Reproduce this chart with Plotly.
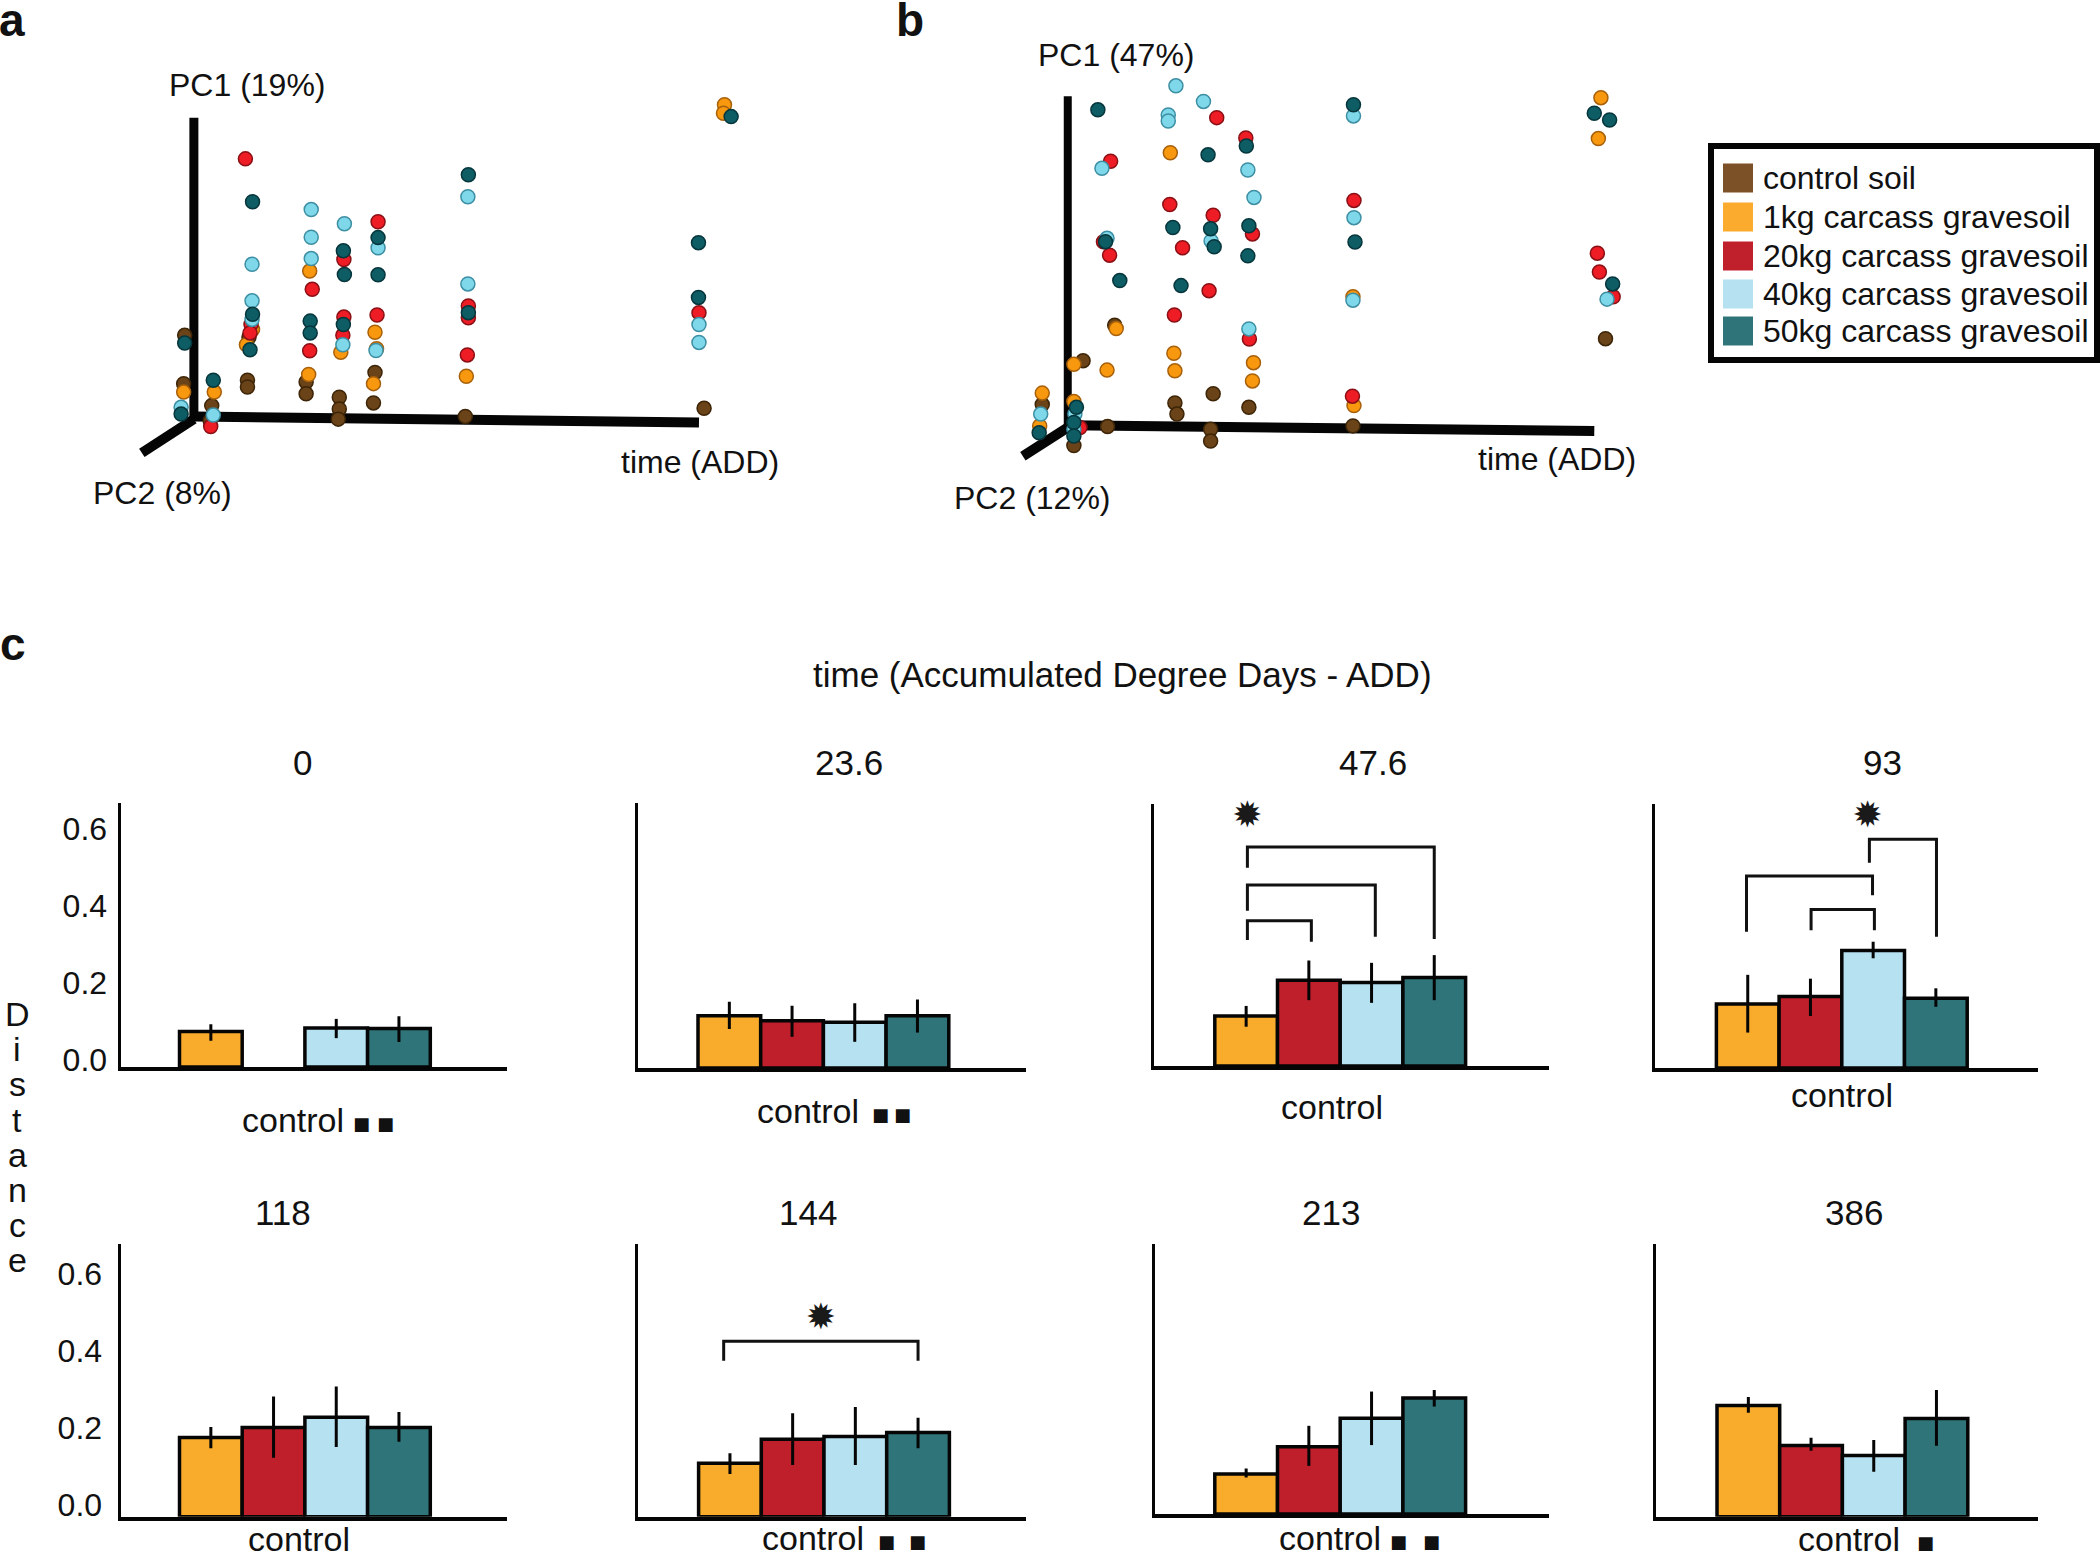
import plotly.graph_objects as go

W, H = 2100, 1553
FONT = "Liberation Sans"
INK = "#111111"

# ---------- data: panel a (projection read-offs; x = time direction, y = PC1 direction)
a_control = [(105,115),(105,95),(220,110),(220,75),(285,65),(285,30),(355,138),(352,48),(532,8),(1000,32),(-18,248),(-20,105),(35,40),(108,242),(32,-5),(283,0)]
a_1kg = [(227,438),(288,198),(355,257),(358,208),(352,105),(534,127),(225,132),(-20,80),(40,80),(103,220),(1040,930),(1038,905),(115,265)]
a_20kg = [(101,770),(232,384),(227,202),(294,472),(294,302),(292,248),(361,584),(359,308),(536,190),(538,335),(538,300),(990,315),(112,280),(110,255),(33,-22)]
a_40kg = [(230,620),(230,538),(230,475),(295,578),(361,507),(114,458),(114,350),(114,295),(292,220),(357,203),(537,658),(537,400),(990,280),(990,227),(38,12),(-25,35)]
a_50kg = [(115,643),(110,205),(115,310),(228,290),(228,255),(293,498),(295,428),(293,280),(361,537),(361,427),(538,723),(538,315),(989,522),(989,360),(-18,225),(38,115),(-25,15),(1053,895)]

# ---------- data: panel b
b_control = [(92,303),(30,198),(285,100),(210,73),(214,40),(355,60),(78,3),(280,-5),(280,-40),(559,5),(1054,263),(-50,68),(12,-53)]
b_1kg = [(201,813),(1045,976),(1040,855),(12,187),(77,170),(208,220),(210,168),(364,192),(362,138),(95,293),(561,65),(-50,102),(12,77),(-55,5),(559,387)]
b_20kg = [(84,788),(292,917),(349,857),(200,660),(285,628),(70,550),(82,510),(225,532),(362,573),(277,405),(209,333),(356,262),(561,672),(558,93),(1038,516),(1042,460),(1069,387),(24,0)]
b_40kg = [(212,1011),(266,965),(197,925),(197,907),(67,767),(353,762),(365,681),(560,922),(561,621),(559,377),(281,552),(355,292),(1057,380),(77,560),(-53,40),(14,40),(12,-5)]
b_50kg = [(59,940),(275,807),(350,833),(560,955),(1032,930),(1062,910),(74,550),(102,435),(206,592),(222,420),(280,588),(287,535),(355,597),(353,508),(563,549),(1068,425),(17,60),(12,15),(12,-25),(-56,-15)]

# ---------- data: panel c
series_names = ["control soil", "1kg carcass gravesoil", "20kg carcass gravesoil", "40kg carcass gravesoil", "50kg carcass gravesoil"]
add_titles = ["0", "23.6", "47.6", "93", "118", "144", "213", "386"]
bar_values = [
    [0.092, None, 0.101, 0.100],
    [0.136, 0.123, 0.119, 0.136],
    [0.130, 0.223, 0.217, 0.230],
    [0.166, 0.186, 0.305, 0.181],
    [0.206, 0.232, 0.258, 0.232],
    [0.139, 0.201, 0.208, 0.219],
    [0.104, 0.175, 0.249, 0.301],
    [0.289, 0.185, 0.159, 0.255],
]
err_high = [
    [0.111, None, 0.125, 0.132],
    [0.172, 0.162, 0.168, 0.178],
    [0.156, 0.274, 0.268, 0.288],
    [0.242, 0.232, 0.328, 0.207],
    [0.233, 0.312, 0.338, 0.272],
    [0.165, 0.269, 0.285, 0.257],
    [0.118, 0.229, 0.318, 0.322],
    [0.311, 0.205, 0.199, 0.329],
]
err_low = [
    [0.068, None, 0.075, 0.065],
    [0.101, 0.081, 0.068, 0.092],
    [0.102, 0.171, 0.164, 0.171],
    [0.092, 0.135, 0.285, 0.159],
    [0.178, 0.153, 0.181, 0.195],
    [0.111, 0.134, 0.134, 0.178],
    [0.095, 0.125, 0.179, 0.279],
    [0.270, 0.171, 0.117, 0.184],
]
# brackets per panel: (x0, x1, top, left end, right end)
brackets = {
    2: [(0.02, 3.0, 0.569, 0.515, 0.330), (0.02, 2.06, 0.470, 0.403, 0.336), (0.02, 1.04, 0.377, 0.327, 0.323)],
    3: [(-0.02, 1.99, 0.499, 0.354, 0.449), (1.01, 2.02, 0.412, 0.358, 0.358), (1.94, 3.01, 0.594, 0.533, 0.341)],
    5: [(-0.1, 3.0, 0.456, 0.405, 0.405)],
}
stars = {2: (0.02, 0.644), 3: (1.91, 0.649), 5: (1.45, 0.511)}
y_ticks = [0.0, 0.2, 0.4, 0.6]

# ---------- styling / layout
marker_cols = ["#6a4318", "#f7980f", "#ee1c25", "#7fd8ea", "#0e5c64"]
marker_edge = ["#3d2508", "#a8600a", "#8a1015", "#3d8fa3", "#06363c"]
bar_cols = ["#f9ac2c", "#be1f2b", "#b5e1f0", "#2f7479"]
swatch_cols = ["#7c5128", "#fbab2e", "#c0202c", "#b5e1f0", "#2f7479"]

# axisX, axisEnd, base, top, first bar left edge
panels = [
    (119, 507, 1067, 803, 179.5), (636, 1026, 1068, 803, 698), (1152.5, 1549, 1066, 804, 1214.8), (1653.5, 2038, 1068, 804, 1716.4),
    (119, 507, 1516.7, 1244, 179.5), (636, 1026, 1516.7, 1244, 698.6), (1153.8, 1549, 1514, 1244, 1214.8), (1654.8, 2038, 1516.7, 1244, 1717),
]
BAR_W = 62.7
Y_SCALE = 385.0
title_pos = [(302, 762), (849, 762), (1373, 762), (1882.6, 762), (283, 1212), (808, 1212), (1331, 1212), (1854, 1212)]
# control text centre, y, square centres
ctrl = [
    (293, 1120, [361, 385]), (808, 1111, [880, 902]), (1332, 1107, []), (1842, 1095, []),
    (299, 1539, []), (813, 1538, [886, 917]), (1330, 1538, [1398, 1431]), (1849, 1539, [1925]),
]

fig = go.Figure()
layout = dict(width=W, height=H, margin=dict(l=0, r=0, t=0, b=0, pad=0), autosize=False,
              template="none",
              paper_bgcolor="white", plot_bgcolor="white", showlegend=False,
              font=dict(family=FONT, color=INK))
ann = []
shapes = []

def px(x): return x / W
def py(y): return 1 - y / H

def text(x, y, s, size=32, bold=False, anchor="center", family=FONT):
    ann.append(dict(x=px(x), y=py(y), xref="paper", yref="paper", text=f"<b>{s}</b>" if bold else s,
                    showarrow=False, xanchor=anchor, yanchor="middle",
                    font=dict(size=size, family=family, color=INK)))

# ---------- panels a and b
def scatter_panel(idx, left, right, xr, yr, groups, axes):
    xk, yk = f"xaxis{idx}", f"yaxis{idx}"
    layout[xk] = dict(domain=[px(left), px(right)], range=xr, visible=False, anchor=f"y{idx}", automargin=False)
    layout[yk] = dict(domain=[py(530), 1], range=yr, visible=False, anchor=f"x{idx}", automargin=False)
    for seg in axes:
        fig.add_trace(go.Scatter(x=seg[0], y=seg[1], mode="lines", xaxis=f"x{idx}", yaxis=f"y{idx}",
                                 line=dict(color="#050505", width=seg[2]), hoverinfo="skip"))
    for g, col, edge, name in zip(groups, marker_cols, marker_edge, series_names):
        fig.add_trace(go.Scatter(x=[p[0] for p in g], y=[p[1] for p in g], mode="markers", name=name,
                                 xaxis=f"x{idx}", yaxis=f"y{idx}",
                                 marker=dict(size=14, color=col, line=dict(color=edge, width=1.5))))

scatter_panel(9, 0, 800, [-380, 1188], [-328, 1240],
              [a_control, a_1kg, a_20kg, a_40kg, a_50kg],
              [([0, 0], [0, 892], 9), ([0, 990], [8, -10], 10), ([0, -102], [0, -100], 10)])
scatter_panel(10, 880, 1680, [-368, 1200], [-303, 1265],
              [b_control, b_1kg, b_20kg, b_40kg, b_50kg],
              [([0, 0], [0, 980], 8), ([0, 1032], [7, -10], 10), ([0, -88], [0, -85], 10)])

text(247, 85, "PC1 (19%)"); text(162, 493, "PC2 (8%)"); text(700, 462, "time (ADD)")
text(1116, 55, "PC1 (47%)"); text(1032, 498, "PC2 (12%)"); text(1557, 459, "time (ADD)")
text(12, 20, "a", 46, True); text(910, 20, "b", 46, True); text(13, 644, "c", 46, True)

# ---------- panel c bars
for i, (ax0, ax1, base, top, bar0) in enumerate(panels):
    n = i + 1
    c0 = bar0 + BAR_W / 2
    xk = "xaxis" if n == 1 else f"xaxis{n}"
    yk = "yaxis" if n == 1 else f"yaxis{n}"
    xa, ya = f"x{'' if n == 1 else n}", f"y{'' if n == 1 else n}"
    row2 = i >= 4
    first = i in (0, 4)
    left = ax0 + 1.5
    layout[xk] = dict(domain=[px(left), px(ax1)], range=[(left - c0) / BAR_W, (ax1 - c0) / BAR_W],
                      anchor=ya, showline=True, linewidth=4, linecolor="#050505", showticklabels=False,
                      ticks="", showgrid=False, zeroline=False, automargin=False)
    layout[yk] = dict(domain=[py(base), py(top)], range=[0, (base - top) / Y_SCALE], anchor=xa,
                      showline=True, linewidth=3, linecolor="#050505", showgrid=False, zeroline=False,
                      ticks="", tickvals=y_ticks if first else [], ticktext=[f"{t:.1f}" for t in y_ticks] if first else [],
                      showticklabels=first, tickfont=dict(size=32, family=FONT, color=INK), automargin=False,
                      ticklabelstandoff=9 if row2 else 4, ticklabelshift=-12 if row2 else -7)
    vals, hi, lo = bar_values[i], err_high[i], err_low[i]
    fig.add_trace(go.Bar(
        x=[0, 1, 2, 3], y=vals, width=1, xaxis=xa, yaxis=ya, name=add_titles[i],
        marker=dict(color=bar_cols, line=dict(color="#050505", width=3.5)),
        error_y=dict(type="data", symmetric=False, thickness=3, width=0, color="#050505",
                     array=[None if v is None else h - v for v, h in zip(vals, hi)],
                     arrayminus=[None if v is None else v - l for v, l in zip(vals, lo)]),
    ))
    for b in brackets.get(i, []):
        x0, x1, t, l, r = b
        fig.add_trace(go.Scatter(x=[x0, x0, x1, x1], y=[l, t, t, r], mode="lines", xaxis=xa, yaxis=ya,
                                 line=dict(color="#111111", width=3), hoverinfo="skip"))
    if i in stars:
        sx, sy = stars[i]
        fig.add_trace(go.Scatter(x=[sx], y=[sy], mode="text", text=["✹"], xaxis=xa, yaxis=ya, cliponaxis=False,
                                 textfont=dict(size=36, family="DejaVu Sans", color="#1a1a1a"),
                                 textposition="middle center", hoverinfo="skip"))
    tx, ty = title_pos[i]
    text(tx, ty, add_titles[i], 35)
    cx, cy, squares = ctrl[i]
    text(cx, cy, "control", 34)
    for sq in squares:
        text(sq, cy + 3, "■", 18, family="DejaVu Sans")

text(1122, 674, "time (Accumulated Degree Days - ADD)", 35)
for k, ch in enumerate("Distance"):
    text(17, 1014 + k * 35.2, ch, 34)

# ---------- legend
shapes.append(dict(type="rect", xref="paper", yref="paper", x0=px(1711), x1=px(2097), y0=py(146), y1=py(360),
                   line=dict(color="#050505", width=6), fillcolor="white", layer="below"))
leg_y = [178, 217, 256, 294, 331]
leg_h = [29, 29, 29, 29, 29]
for name, col, yy, hh in zip(series_names, swatch_cols, leg_y, leg_h):
    shapes.append(dict(type="rect", xref="paper", yref="paper", x0=px(1723), x1=px(1753),
                       y0=py(yy - hh / 2), y1=py(yy + hh / 2), fillcolor=col, line=dict(width=0)))
    text(1761, yy, name, 32, anchor="left")

layout["annotations"] = ann
layout["shapes"] = shapes
fig.update_layout(**layout)
fig.write_html("out.html", config=dict(displayModeBar=False),
               post_script="document.body.style.margin='0';document.documentElement.style.overflow='hidden';")
